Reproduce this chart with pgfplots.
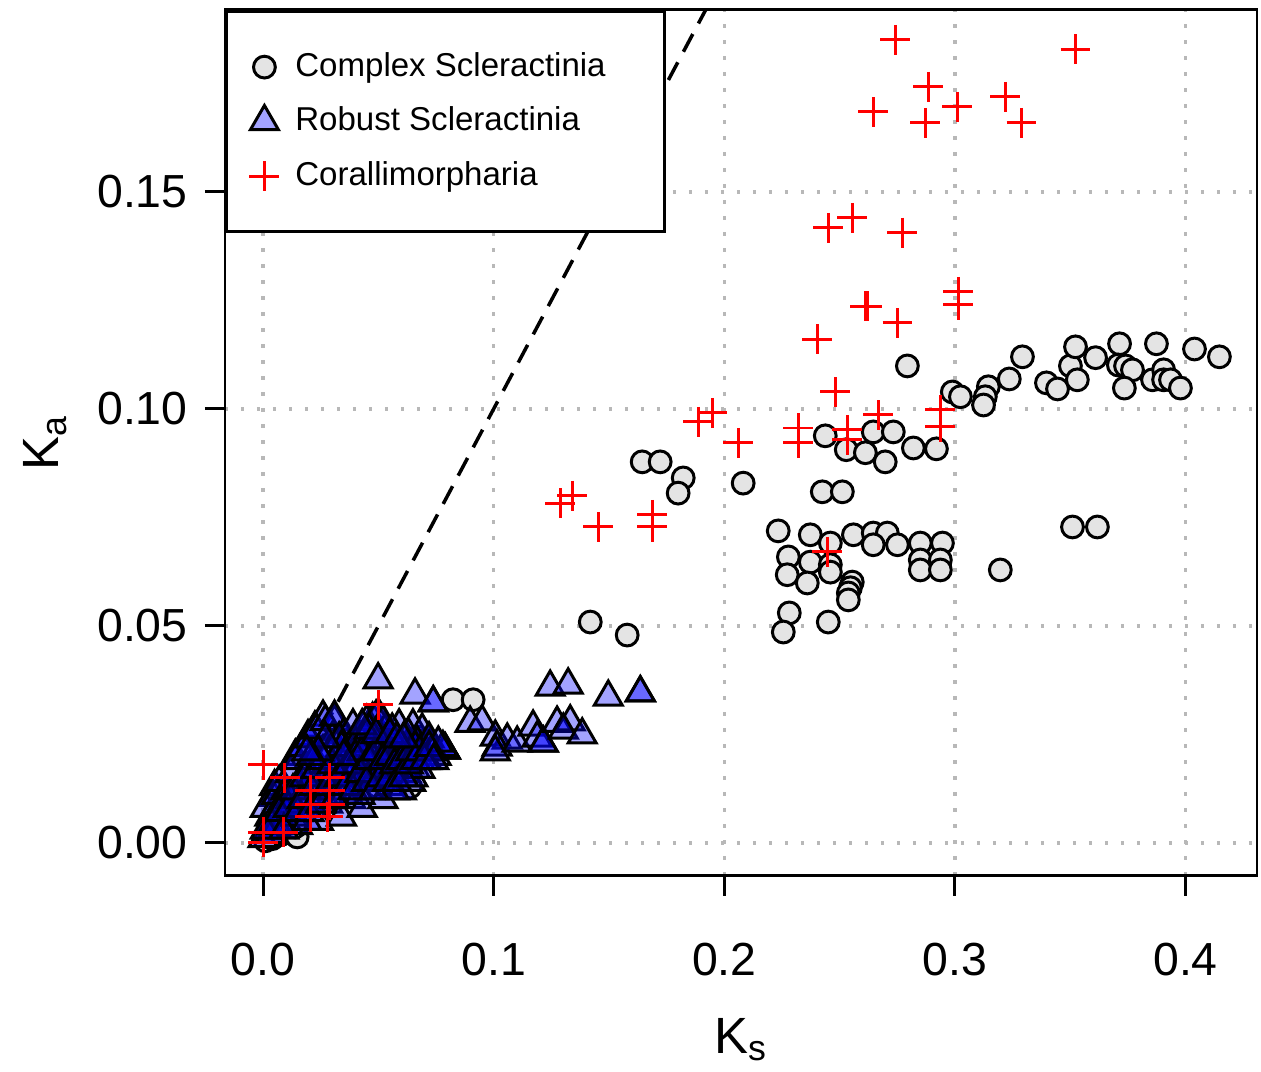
\documentclass[border=0pt]{standalone}
\usepackage{fontspec}
\setmainfont{Liberation Sans}
\usepackage{pgfplots}
\pgfplotsset{compat=1.18}
\definecolor{cfill}{RGB}{228,228,228}
\begin{document}
\begin{tikzpicture}
\begin{axis}[
  scale only axis, width=103.2mm, height=86.6mm,
  xmin=-0.0165, xmax=0.431, ymin=-0.0076, ymax=0.1919,
  axis line style={line width=0.85pt},
  xtick={0,0.1,0.2,0.3,0.4}, xticklabels={0.0,0.1,0.2,0.3,0.4},
  ytick={0,0.05,0.1,0.15}, yticklabels={0.00,0.05,0.10,0.15},
  tick align=outside, major tick length=2mm, tick pos=left,
  tick style={black, line width=0.85pt},
  ticklabel style={font=\fontsize{13.2}{15}\selectfont},
  xticklabel style={yshift=-3.5mm},
  yticklabel style={xshift=-0.5mm},
  grid=major, grid style={black!28, line width=0.35mm, dash pattern=on 0.35mm off 1.25mm},
  xlabel={K\textsubscript{s}}, ylabel={K\textsubscript{a}},
  label style={font=\fontsize{14.5}{16}\selectfont},
  xlabel style={at={(axis description cs:0.5,-0.189)}, anchor=center},
  ylabel style={at={(axis description cs:-0.1744,0.5)}, anchor=center},
  legend style={at={(0,1)}, anchor=north west, draw=black, line width=0.85pt, fill=white,
    font=\fontsize{9.4}{11}\selectfont, inner xsep=2.3mm, inner ysep=3.4mm, row sep=3.2pt,
    column sep=0.9mm},
  legend cell align=left,
]
% y = x reference line
\addplot[black, line width=1pt, dash pattern=on 2mm off 1.2mm, forget plot] coordinates {(0,0) (0.2,0.2)};

% Complex Scleractinia
\addplot[only marks, mark=*, mark size=3.1pt, mark options={draw=black, fill=cfill, line width=0.85pt}] coordinates {
(0.2794,0.1099)(0.2989,0.1039)(0.3024,0.1028)(0.3145,0.1051)(0.3132,0.1028)(0.3124,0.1009)
(0.3236,0.1069)(0.3293,0.1120)(0.3397,0.1060)(0.3445,0.1046)(0.3501,0.1099)(0.3523,0.1143)
(0.3531,0.1067)(0.3610,0.1118)(0.3714,0.1150)(0.3709,0.1101)(0.3740,0.1099)(0.3770,0.1090)
(0.3735,0.1048)(0.3874,0.1150)(0.3857,0.1067)(0.3905,0.1090)(0.3905,0.1067)(0.3935,0.1067)
(0.3978,0.1048)(0.4039,0.1138)(0.4147,0.1120)
(0.2820,0.0910)(0.2920,0.0908)(0.3510,0.0728)(0.3618,0.0728)(0.3197,0.0629)
(0.1644,0.0878)(0.1722,0.0878)(0.1822,0.0841)(0.1800,0.0806)(0.2082,0.0829)
(0.2438,0.0938)(0.2529,0.0906)(0.2612,0.0899)(0.2646,0.0947)(0.2733,0.0947)(0.2698,0.0878)
(0.2425,0.0809)(0.2512,0.0809)
(0.2234,0.0719)(0.2373,0.0710)(0.2460,0.0691)(0.2560,0.0710)(0.2646,0.0714)(0.2707,0.0714)
(0.2646,0.0687)(0.2751,0.0687)(0.2850,0.0691)(0.2946,0.0691)(0.2850,0.0652)(0.2850,0.0629)
(0.2937,0.0652)(0.2937,0.0629)(0.2278,0.0659)(0.2373,0.0647)(0.2273,0.0618)(0.2360,0.0599)
(0.2460,0.0641)(0.2460,0.0624)(0.2555,0.0601)(0.2547,0.0588)(0.2538,0.0576)(0.2538,0.0560)
(0.2282,0.0530)(0.2256,0.0486)(0.2451,0.0509)
(0.1419,0.0509)(0.1579,0.0479)(0.0824,0.0330)(0.0911,0.0330)
(0.0010,0.0005)(0.0040,0.0010)(0.0080,0.0020)
(0.0672,0.0244)(0.0703,0.0237)(0.0486,0.0168)(0.0486,0.0152)(0.0499,0.0129)
(0.0625,0.0152)(0.0638,0.0129)(0.0377,0.0115)(0.0148,0.0014)(0.0139,0.0037)
(0.0616,0.0190)(0.0573,0.0226)
};
\addlegendentry{\makebox[33.9mm][l]{Complex Scleractinia}}

% Robust Scleractinia
\addplot[only marks, mark=triangle*, mark size=4.6pt, mark options={draw=black, fill=blue, fill opacity=0.36, line width=0.85pt}] coordinates {
(0.0659,0.0341)(0.0738,0.0323)(0.0898,0.0276)(0.0950,0.0279)(0.1007,0.0244)(0.1059,0.0237)
(0.1015,0.0221)(0.1007,0.0210)(0.1102,0.0230)(0.1171,0.0267)(0.1189,0.0242)(0.1215,0.0230)
(0.1215,0.0230)(0.1275,0.0276)(0.1332,0.0279)(0.1302,0.0260)(0.1384,0.0249)(0.1245,0.0359)
(0.1323,0.0364)(0.1497,0.0336)(0.1636,0.0346)(0.1636,0.0346)(0.0790,0.0214)(0.0790,0.0214)
(0.0790,0.0214)(0.0499,0.0376)(0.0738,0.0323)
(0.0260,0.0290)(0.0310,0.0280)(0.0225,0.0265)(0.0195,0.0245)(0.0170,0.0220)(0.0140,0.0200)
(0.0050,0.0130)(0.0045,0.0105)(0.0010,0.0080)(0.0475,0.0285)(0.0500,0.0295)(0.0650,0.0270)
(0.0690,0.0260)
(0.000,0.001)(0.002,0.003)(0.004,0.002)(0.003,0.006)(0.005,0.008)(0.006,0.011)(0.007,0.014)
(0.008,0.005)(0.010,0.007)(0.010,0.012)(0.012,0.016)(0.013,0.009)(0.014,0.019)(0.015,0.004)
(0.016,0.013)(0.017,0.022)(0.018,0.008)(0.019,0.017)(0.020,0.024)(0.021,0.011)(0.022,0.019)
(0.023,0.026)(0.024,0.005)(0.025,0.014)(0.026,0.021)(0.027,0.028)(0.028,0.009)(0.029,0.017)
(0.030,0.024)(0.031,0.029)(0.032,0.013)(0.033,0.020)(0.034,0.006)(0.035,0.025)(0.036,0.016)
(0.037,0.022)(0.038,0.010)(0.039,0.027)(0.040,0.018)(0.041,0.014)(0.042,0.024)(0.043,0.008)
(0.044,0.020)(0.045,0.028)(0.046,0.012)(0.047,0.017)(0.048,0.023)(0.049,0.029)(0.050,0.015)
(0.051,0.021)(0.052,0.010)(0.053,0.026)(0.054,0.018)(0.055,0.013)(0.056,0.023)(0.057,0.016)
(0.058,0.020)(0.059,0.027)(0.060,0.012)(0.061,0.018)(0.062,0.022)(0.063,0.025)(0.064,0.014)
(0.065,0.020)(0.066,0.017)(0.067,0.023)(0.068,0.019)(0.070,0.021)(0.072,0.024)(0.075,0.020)
(0.078,0.022)
(0.003,0.002)(0.006,0.004)(0.008,0.009)(0.011,0.004)(0.012,0.010)(0.014,0.006)(0.016,0.009)
(0.018,0.012)(0.019,0.005)(0.021,0.015)(0.022,0.008)(0.024,0.018)(0.026,0.011)(0.027,0.016)
(0.029,0.021)(0.030,0.012)(0.032,0.017)(0.033,0.024)(0.035,0.011)(0.036,0.020)(0.038,0.015)
(0.039,0.022)(0.041,0.018)(0.042,0.011)(0.044,0.016)(0.045,0.022)(0.047,0.014)(0.048,0.019)
(0.050,0.025)(0.051,0.017)(0.053,0.014)(0.054,0.022)(0.056,0.019)(0.057,0.012)(0.059,0.017)
(0.060,0.022)(0.062,0.016)(0.063,0.020)(0.065,0.015)(0.066,0.022)(0.068,0.017)(0.071,0.019)
(0.073,0.021)(0.076,0.023)(0.052,0.028)(0.056,0.026)(0.044,0.025)(0.040,0.023)
(0.001,0.003)(0.004,0.004)(0.007,0.007)(0.009,0.003)(0.011,0.008)(0.013,0.012)(0.015,0.007)
(0.017,0.010)(0.018,0.015)(0.020,0.007)(0.022,0.013)(0.023,0.017)(0.025,0.009)(0.026,0.019)
(0.028,0.013)(0.030,0.018)(0.031,0.010)(0.033,0.015)(0.034,0.022)(0.036,0.013)(0.037,0.018)
(0.039,0.012)(0.040,0.020)(0.042,0.016)(0.043,0.021)(0.045,0.014)(0.046,0.019)(0.048,0.012)
(0.049,0.021)(0.051,0.015)(0.052,0.019)(0.054,0.014)(0.055,0.020)(0.057,0.018)(0.058,0.014)
(0.060,0.019)(0.061,0.015)(0.063,0.018)(0.064,0.021)(0.066,0.019)(0.068,0.021)(0.070,0.019)
(0.072,0.022)(0.074,0.019)(0.046,0.026)(0.043,0.027)(0.049,0.025)(0.055,0.025)(0.058,0.024)
(0.061,0.024)(0.035,0.020)(0.027,0.024)(0.024,0.021)(0.021,0.020)(0.019,0.021)
};
\addlegendentry{\makebox[33.9mm][l]{Robust Scleractinia}}

% Corallimorpharia
\addplot[only marks, mark=+, mark size=4.25pt, mark options={draw=red, line width=0.85pt}] coordinates {
(0.2742,0.1850)(0.3523,0.1829)(0.2885,0.1742)(0.3011,0.1696)(0.3219,0.1719)(0.2646,0.1684)
(0.2872,0.1659)(0.3289,0.1659)(0.2451,0.1417)(0.2555,0.1440)(0.2772,0.1406)(0.2620,0.1237)
(0.2612,0.1237)(0.2751,0.1198)(0.3015,0.1270)(0.3015,0.1240)(0.2403,0.1161)
(0.2482,0.1039)(0.1948,0.0991)(0.1887,0.0970)(0.2061,0.0922)(0.2321,0.0956)(0.2321,0.0922)
(0.2534,0.0952)(0.2534,0.0929)(0.2668,0.0986)(0.2937,0.0998)(0.2937,0.0959)
(0.1341,0.0800)(0.1289,0.0783)(0.1453,0.0728)(0.1688,0.0756)(0.1688,0.0728)(0.2447,0.0671)
(0.0000,0.0180)(0.0095,0.0150)(0.0204,0.0122)(0.0290,0.0150)(0.0290,0.0122)(0.0204,0.0088)
(0.0290,0.0088)(0.0204,0.0060)(0.0280,0.0060)(0.0000,0.0025)(0.0087,0.0025)(0.0000,0.0002)
(0.0499,0.0318)
};
\addlegendentry{\makebox[33.9mm][l]{Corallimorpharia}}
\end{axis}
\pgfresetboundingbox
\path ([shift={(-22.5mm,-19.6mm)}]current axis.south west) rectangle ([shift={(0.4mm,1mm)}]current axis.north east);
\end{tikzpicture}
\end{document}
